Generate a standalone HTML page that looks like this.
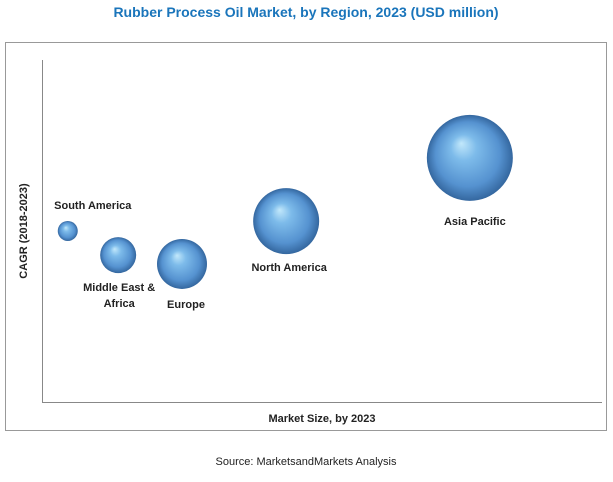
<!DOCTYPE html>
<html><head><meta charset="utf-8"><style>
body{margin:0;width:613px;height:477px;background:#fff;font-family:"Liberation Sans",sans-serif;overflow:hidden}
</style></head><body>
<svg width="613" height="477" xmlns="http://www.w3.org/2000/svg">
<defs>
<radialGradient id="ball" cx="0.5" cy="0.5" r="0.5" fx="0.4" fy="0.33">
<stop offset="0" stop-color="#c2e8fb"/>
<stop offset="0.3" stop-color="#7dbbea"/>
<stop offset="0.75" stop-color="#5592d0"/>
<stop offset="1" stop-color="#34679f"/>
</radialGradient>
</defs>
<text x="306" y="17" text-anchor="middle" font-size="14" font-weight="bold" fill="#1a75bb">Rubber Process Oil Market, by Region, 2023 (USD million)</text>
<rect x="5.5" y="42.5" width="601" height="388" fill="none" stroke="#999"/>
<line x1="42.5" y1="60" x2="42.5" y2="402" stroke="#888"/>
<line x1="42" y1="402.5" x2="602" y2="402.5" stroke="#888"/>
<text x="0" y="0" transform="translate(27,231) rotate(-90)" text-anchor="middle" font-size="11" font-weight="bold" fill="#222">CAGR (2018-2023)</text>
<text x="322" y="422" text-anchor="middle" font-size="11" font-weight="bold" fill="#222">Market Size, by 2023</text>
<text x="306" y="465" text-anchor="middle" font-size="11" fill="#222">Source: MarketsandMarkets Analysis</text>
<g id="bubbles"></g>
</svg>
<script>
const regions=["South America","Middle East & Africa","Europe","North America","Asia Pacific"];
const marketSize=[4.6,13.6,25,43.6,76.4];
const cagr=[50.3,43.2,40.6,53.2,71.8];
const bubbleSize=[100,324,625,1089,1849];
const labelLines=[["South America"],["Middle East &","Africa"],["Europe"],["North America"],["Asia Pacific"]];
const labelOffsets=[[25,-22],[1,36],[4,44],[3,50],[5,67]];
const xs=v=>42+v*5.6, ys=v=>402-v*3.4, rs=v=>Math.sqrt(v);
const NS="http://www.w3.org/2000/svg", g=document.getElementById('bubbles');
regions.forEach((r,i)=>{
  const cx=xs(marketSize[i]), cy=ys(cagr[i]);
  const c=document.createElementNS(NS,'circle');
  c.setAttribute('cx',cx);c.setAttribute('cy',cy);c.setAttribute('r',rs(bubbleSize[i]));
  c.setAttribute('fill','url(#ball)');
  
  
  g.appendChild(c);
  const t=document.createElementNS(NS,'text');
  t.setAttribute('x',cx+labelOffsets[i][0]);t.setAttribute('y',cy+labelOffsets[i][1]);
  t.setAttribute('text-anchor','middle');t.setAttribute('font-size','11');t.setAttribute('font-weight','bold');t.setAttribute('fill','#222');
  
  
  labelLines[i].forEach((ln,j)=>{const s=document.createElementNS(NS,'tspan');s.setAttribute('x',cx+labelOffsets[i][0]);s.setAttribute('dy',j?16:0);s.textContent=ln;t.appendChild(s);});
  g.appendChild(t);
});
</script>
</body></html>
